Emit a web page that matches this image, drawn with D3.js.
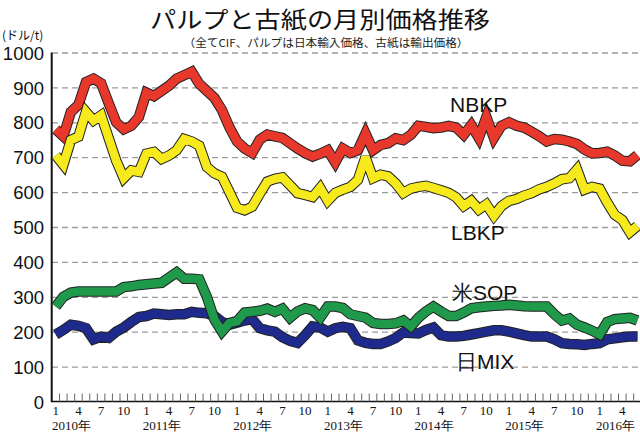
<!DOCTYPE html>
<html><head><meta charset="utf-8">
<script src="https://cdn.jsdelivr.net/npm/d3@7"></script>
<style>
html,body{margin:0;padding:0;background:#fff;}
svg{display:block;}
</style></head>
<body>
<svg id="chart" width="640" height="432"></svg>
<script>
// ---- data (USD/t), monthly Jan 2010 – Jun 2016 ----
const years = [2010, 2011, 2012, 2013, 2014, 2015, 2016];
const monthLabels = [1, 4, 7, 10];
const yTicks = [0,100,200,300,400,500,600,700,800,900,1000];

const nbkp = [780,760,830,850,915,925,912,855,800,780,790,815,
              885,875,890,905,925,935,945,910,890,870,835,785,
              745,725,712,750,765,760,755,740,725,712,702,710,
              720,685,725,712,720,768,720,735,740,754,749,764,
              790,787,783,785,790,785,764,792,755,815,755,790,
              800,790,785,773,760,745,752,750,745,738,722,711,
              712,716,705,690,688,706];
const lbkp = [705,678,749,759,830,805,820,755,690,640,662,658,
              710,715,695,705,720,752,745,733,672,654,644,600,
              555,548,558,595,630,638,642,620,597,592,586,612,
              575,598,607,615,635,700,640,650,645,625,597,610,
              615,618,612,605,598,585,560,575,550,565,532,560,
              575,580,590,597,608,615,625,637,640,665,607,615,
              610,570,535,520,485,503];
const sop  = [272,300,312,315,315,315,315,315,315,328,330,334,
              336,338,340,355,370,352,352,350,300,235,200,225,
              230,255,257,260,266,257,266,240,258,267,262,240,
              272,272,268,250,245,240,225,222,222,224,232,215,
              240,258,272,258,245,245,255,267,270,272,274,275,
              277,275,273,272,272,272,250,232,238,220,212,203,
              192,228,236,238,240,232];
const mix  = [192,205,220,217,210,178,186,182,200,212,228,242,
              245,252,250,248,250,250,257,254,253,245,228,220,
              226,232,236,210,204,200,184,174,168,190,215,212,
              200,210,214,210,175,168,165,165,172,182,198,196,
              195,205,212,190,186,186,188,192,196,200,204,204,
              200,195,190,186,186,186,178,167,165,164,162,165,
              167,178,181,184,186,186];

const seriesNames = ["NBKP","LBKP","日MIX","米SOP"];
const seriesColors = ["#e8372b","#f7ea1c","#1f2b8c","#1e9a4a"];
const seriesData = [nbkp, lbkp, mix, sop];

// ---- layout ----
const svg = d3.select("#chart");
const nMonths = nbkp.length;
const x = d3.scaleLinear().domain([-0.5, 77.5]).range([52, 641.2]);
const y = d3.scaleLinear().domain([0, 1000]).range([401.5, 52.5]);

// title
svg.append("text").attr("x", 320).attr("y", 27.5).attr("text-anchor", "middle")
  .attr("font-family", "'Noto Sans CJK JP'").attr("font-size", 23).attr("fill", "#111")
  .attr("textLength", 340).attr("lengthAdjust", "spacingAndGlyphs")
  .text("パルプと古紙の月別価格推移");
svg.append("text").attr("x", 326).attr("y", 47).attr("text-anchor", "middle")
  .attr("font-family", "'Noto Sans CJK JP'").attr("font-size", 11).attr("fill", "#222")
  .attr("textLength", 285).attr("lengthAdjust", "spacingAndGlyphs")
  .text("（全てCIF、パルプは日本輸入価格、古紙は輸出価格）");
svg.append("text").attr("x", 2).attr("y", 40)
  .attr("font-family", "'Noto Sans CJK JP'").attr("font-size", 12).attr("fill", "#111")
  .text("(ドル/t)");

// gridlines
const grid = svg.append("g").attr("transform", "translate(52,0)")
  .call(d3.axisLeft(y).tickValues(yTicks.filter(d => d > 0)).tickSize(-590).tickFormat(""));
grid.select(".domain").remove();
grid.selectAll("line").attr("stroke", "#9a9a9a").attr("stroke-width", 1.3).attr("stroke-dasharray", "6,4");

// y axis labels
const yAxis = svg.append("g").attr("transform", "translate(52,0)")
  .call(d3.axisLeft(y).tickValues(yTicks).tickSize(0).tickPadding(8).tickFormat(d3.format("d")));
yAxis.select(".domain").remove();
yAxis.selectAll("text").attr("font-family", "'Liberation Sans', Arial, sans-serif")
  .attr("font-size", 18.5).attr("fill", "#111").attr("dy", "0.36em");

// axis lines
svg.append("line").attr("x1", 51.7).attr("x2", 51.7).attr("y1", y(1000)).attr("y2", y(0) + 0.5)
  .attr("stroke", "#111").attr("stroke-width", 2);
svg.append("line").attr("x1", 51).attr("x2", 640).attr("y1", y(0)).attr("y2", y(0))
  .attr("stroke", "#111").attr("stroke-width", 1.6);

// month ticks
const tickIdx = d3.range(1, nMonths + 1);
svg.append("g").selectAll("line").data(tickIdx).join("line")
  .attr("x1", d => x(d - 0.5)).attr("x2", d => x(d - 0.5))
  .attr("y1", y(0) - 8).attr("y2", y(0))
  .attr("stroke", "#666").attr("stroke-width", 1);

// month / year labels
const monthTicks = [];
years.forEach((yr, yi) => monthLabels.forEach(m => {
  const idx = yi * 12 + (m - 1);
  if (idx < nMonths) monthTicks.push({idx, m});
}));
svg.append("g").selectAll("text").data(monthTicks).join("text")
  .attr("x", d => x(d.idx)).attr("y", 415).attr("text-anchor", "middle")
  .attr("font-family", "'Liberation Serif', 'Times New Roman', serif").attr("font-size", 13).attr("fill", "#111")
  .text(d => d.m);
svg.append("g").selectAll("text").data(years).join("text")
  .attr("x", (d, i) => x(i * 12 - 0.5)).attr("y", 430)
  .attr("font-family", "'Liberation Serif', 'Times New Roman', serif").attr("font-size", 13).attr("fill", "#111")
  .text(d => d + "年");

// series lines
const line = d3.line().x((d, i) => x(i)).y(d => y(d));
seriesData.forEach((data, si) => {
  const g = svg.append("g");
  g.append("path").datum(data).attr("d", line).attr("fill", "none")
    .attr("stroke", "#222").attr("stroke-width", 10.5).attr("stroke-linejoin", "miter").attr("stroke-miterlimit", 3);
  g.append("path").datum(data).attr("d", line).attr("fill", "none")
    .attr("stroke", seriesColors[si]).attr("stroke-width", 8.5).attr("stroke-linejoin", "miter").attr("stroke-miterlimit", 3);
});

// series labels
const labelPos = [{x: 450, y: 112}, {x: 451, y: 240}, {x: 456, y: 369}, {x: 452, y: 300}];
seriesNames.forEach((n, i) => {
  svg.append("text").attr("x", labelPos[i].x).attr("y", labelPos[i].y)
    .attr("font-family", "'Liberation Sans', Arial, sans-serif").attr("font-size", 21).attr("fill", "#111")
    .text(n);
});
</script>
</body></html>
